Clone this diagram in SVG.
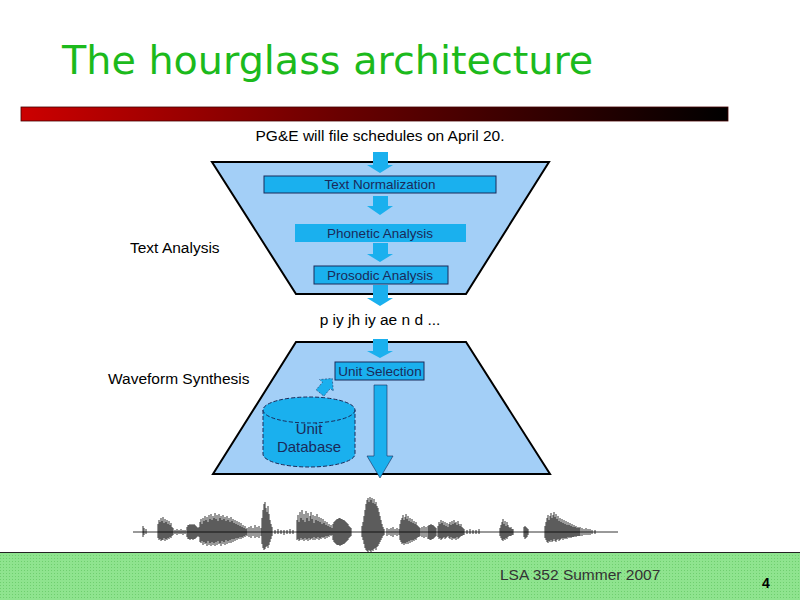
<svg xmlns="http://www.w3.org/2000/svg" width="800" height="600" viewBox="0 0 800 600">
<defs>
<linearGradient id="bar" x1="0" y1="0" x2="1" y2="0">
<stop offset="0" stop-color="#cc0000"/>
<stop offset="0.45" stop-color="#6a0000"/>
<stop offset="1" stop-color="#000000"/>
</linearGradient>
<pattern id="dots" width="3" height="3" patternUnits="userSpaceOnUse">
<rect width="3" height="3" fill="#8fe48f"/>
<rect width="1" height="1" fill="#6fcf6f"/>
</pattern>
<style>
.trap{fill:#a3cff7;stroke:#000;stroke-width:2}
.box{fill:#1ab0ee}
.boxb{fill:#1ab0ee;stroke:#1a2a5a;stroke-width:1}
.arr{fill:#1ab0ee}
.lbl{font-family:"Liberation Sans",Arial,sans-serif;font-size:13.5px;fill:#1a2a5a;text-anchor:middle}
.txt{font-family:"Liberation Sans",Arial,sans-serif;font-size:15.5px;fill:#000}
.wave{fill:none;stroke:#000;stroke-width:0.8}
</style>
</defs>
<rect width="800" height="600" fill="#fff"/>
<text x="62" y="74" font-family="DejaVu Sans,Verdana,sans-serif" font-size="39.7" fill="#1cba1c">The hourglass architecture</text>
<rect x="21" y="107" width="707" height="14" fill="url(#bar)" stroke="#400" stroke-width="0.8"/>

<g id="trapezoid-text-analysis"><polygon class="trap" points="212,162 549,162 466,294 296,294"/></g>
<g id="trapezoid-waveform-synthesis"><polygon class="trap" points="296,342 466,342 550,474 213,474"/></g>

<text class="txt" x="380" y="141" text-anchor="middle">PG&amp;E will file schedules on April 20.</text>
<text class="txt" x="380" y="325" text-anchor="middle">p iy jh iy ae n d ...</text>
<g id="label-text-analysis"><text class="txt" x="130" y="253">Text Analysis</text></g>
<g id="label-waveform-synthesis"><text class="txt" x="108" y="384">Waveform Synthesis</text></g>

<g id="connectors">
<polygon class="arr" points="373,152 388,152 388,165 393,165 380,173 367,165 373,165"/>
<polygon class="arr" points="373,196 388,196 388,206 393,206 380,215 367,206 373,206"/>
<polygon class="arr" points="373,243 388,243 388,254 393,254 380,262 367,254 373,254"/>
<polygon class="arr" points="373,285 388,285 388,298 393,298 380,306 367,298 373,298"/>
<polygon class="arr" points="373,339 388,339 388,351 393,351 380,358 367,351 373,351"/>
<polygon class="arr" stroke="#1a2a5a" stroke-width="0.6" points="374,385 387,385 387,456 393,456 380,478 367,456 374,456"/>
<polygon class="arr" stroke="#1a2a5a" stroke-width="0.5" stroke-dasharray="2,1.5" transform="translate(320,393) rotate(40)" points="-5,0 5,0 5,-10 9,-10 0,-19 -9,-10 -5,-10"/>
</g>

<g id="node-text-normalization">
<rect class="boxb" x="264" y="176" width="232" height="17"/>
<text class="lbl" x="380" y="189">Text Normalization</text>
</g>
<g id="node-phonetic-analysis">
<rect class="box" x="295" y="224" width="171" height="18"/>
<text class="lbl" x="380" y="237.5">Phonetic Analysis</text>
</g>
<g id="node-prosodic-analysis">
<rect class="boxb" x="314" y="266" width="134" height="18"/>
<text class="lbl" x="380" y="279.5">Prosodic Analysis</text>
</g>
<g id="node-unit-selection">
<rect class="boxb" x="335" y="362" width="89" height="18"/>
<text class="lbl" x="380" y="375.5">Unit Selection</text>
</g>
<g id="node-unit-database">
<path d="M263,410 V454 A46,13 0 0 0 355,454 V410 Z" fill="#1ab0ee" stroke="#1a2a5a" stroke-width="1" stroke-dasharray="4,2"/>
<ellipse cx="309" cy="410" rx="46" ry="13" fill="#1ab0ee" stroke="#1a2a5a" stroke-width="1" stroke-dasharray="4,2"/>
<text x="309" y="434" font-family="Liberation Sans,Arial,sans-serif" font-size="15" fill="#1a2a5a" text-anchor="middle">Unit</text>
<text x="309" y="452" font-family="Liberation Sans,Arial,sans-serif" font-size="15" fill="#1a2a5a" text-anchor="middle">Database</text>
</g>

<g id="waveform">
<path class="wave" d="M133,532H618
M143,526V537M144,528V535M146,529V534
M158,524V538M159,520V540M160,522V539M161,518V541M162,521V540M163,517V540M164,523V538M165,519V541M166,522V539M167,520V540M168,524V538M169,521V539M170,525V537M171,523V538M172,527V536M173,528V535
M175,530V534M177,529V535M179,530V534M181,529V534M183,530V535M185,530V534
M187,527V537M188,525V539M189,525V539M190,524V540M191,525V539M192,524V539M193,525V540M194,524V539M195,525V539M196,526V538M197,527V537M198,528V536M199,527V537
M200,522V542M201,519V543M202,524V541M203,518V545M204,521V542M205,516V544M206,520V543M207,517V546M208,522V541M209,515V545M210,519V543M211,514V546M212,520V542M213,516V545M214,518V543M215,513V546M216,519V542M217,515V545M218,521V541M219,514V544M220,518V543M221,516V546M222,520V541M223,515V544M224,519V542M225,517V545M226,521V540M227,516V544M228,520V541M229,518V543M230,522V540M231,517V543M232,521V539M233,519V542M234,523V539M235,520V541M236,524V538M237,521V540M238,525V538M239,522V539M240,526V537M241,523V539M242,527V537M243,525V538M244,528V536M245,526V537M246,529V535M247,528V536
M249,527V537M251,526V538M253,528V536M255,525V538M257,527V537M259,526V538M261,528V536
M262,518V544M263,510V548M264,504V550M265,502V549M266,508V547M267,512V546M268,506V548M269,514V545M270,520V542M271,524V539M272,527V536
M275,530V534M278,529V534M281,530V534M284,530V535M287,530V534M290,529V534M293,530V534
M297,520V540M298,515V539M299,522V541M300,512V540M301,518V538M302,510V540M303,520V539M304,514V541M305,522V538M306,511V540M307,518V539M308,513V541M309,521V538M310,516V540M311,512V539M312,519V538M313,515V540M314,523V537M315,516V540M316,520V538M317,514V539M318,521V537M319,517V540M320,522V538M321,518V539M322,524V537M323,519V538M324,523V537M325,521V539M326,525V536M327,522V538M328,526V536M329,524V537M330,527V535M331,525V536M332,528V535
M333,524V540M334,522V542M335,521V543M336,520V544M337,519V545M338,519V545M339,518V545M340,518V546M341,519V545M342,519V545M343,520V544M344,520V544M345,521V543M346,522V542M347,523V541M348,524V540M349,526V538M350,527V537M351,528V536
M362,526V537M363,522V540M364,516V544M365,510V548M366,504V550M367,500V551M368,498V552M369,502V550M370,497V551M371,500V552M372,498V550M373,503V551M374,499V549M375,504V548M376,502V550M377,506V547M378,508V546M379,512V544M380,516V542M381,520V540M382,524V538M383,527V536M384,529V535
M387,528V536M389,529V535M391,528V536M393,527V537M395,529V535M397,528V536M399,529V535
M400,524V540M401,520V542M402,518V544M403,515V543M404,520V545M405,517V543M406,514V544M407,519V542M408,516V544M409,521V541M410,518V543M411,522V540M412,519V542M413,523V540M414,521V541M415,524V539M416,522V540M417,525V538M418,526V537M419,527V537M420,528V536
M422,527V537M424,526V538M426,527V537M428,526V539M429,525V539M430,525V540M431,524V540M432,525V539M433,525V539M434,526V538M435,527V537M436,528V536
M438,526V537M439,522V539M440,524V538M441,520V540M442,523V539M443,521V538M444,525V537M445,522V539M446,526V538M447,523V537M448,527V536M449,524V538M450,522V539M451,525V537M452,521V540M453,524V538M454,520V539M455,523V538M456,522V540M457,525V537M458,521V539M459,524V538M460,526V537M461,524V536M462,527V536M463,528V535M464,529V535
M467,530V534M470,529V534M473,530V534M476,530V534M479,529V534
M500,528V536M501,525V538M502,522V540M503,519V541M504,524V539M505,521V540M506,526V538M507,522V539M508,525V537M509,527V536M510,528V536M511,527V536M512,529V535M513,529V535
M524,527V537M525,526V539M526,527V538M527,528V537M528,529V535
M545,526V538M546,522V540M547,518V542M548,515V543M549,520V541M550,516V542M551,513V540M552,518V542M553,515V541M554,512V539M555,517V541M556,514V542M557,519V540M558,516V539M559,521V541M560,518V540M561,522V539M562,519V538M563,523V540M564,520V538M565,524V539M566,521V538M567,525V539M568,522V537M569,525V538M570,523V537M571,526V538M572,524V537M573,527V537M574,525V537M575,527V536M576,526V537M577,528V536M578,527V536M579,528V536M580,527V536M582,528V536M584,529V535M586,528V535M588,529V535M590,529V535M592,530V534M595,530V534"/>
</g>

<g id="footer">
<rect x="0" y="552" width="800" height="48" fill="url(#dots)"/>
<line x1="0" y1="552.5" x2="800" y2="552.5" stroke="#222" stroke-width="1"/>
<text x="500" y="580" font-family="Liberation Sans,Arial,sans-serif" font-size="15.5" fill="#333">LSA 352 Summer 2007</text>
<text x="766" y="588" font-family="Liberation Sans,Arial,sans-serif" font-size="14" font-weight="bold" fill="#000" text-anchor="middle">4</text>
</g>
</svg>
